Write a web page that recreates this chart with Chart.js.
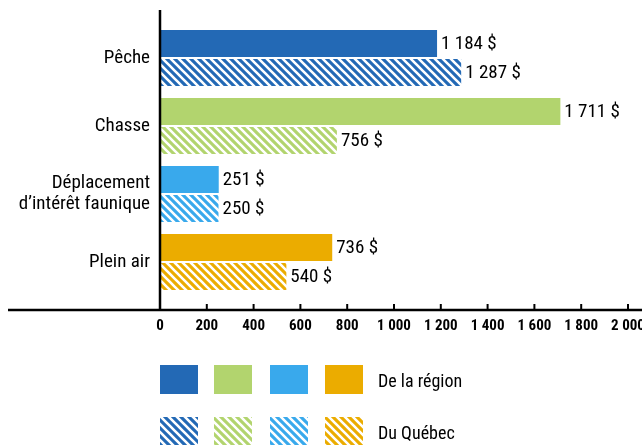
<!DOCTYPE html>
<html>
<head>
<meta charset="utf-8">
<script src="https://cdn.jsdelivr.net/npm/chart.js@4"></script>
<style>
  body { margin: 0; background: #fff; }
  #wrap { width: 642px; height: 445px; }
</style>
</head>
<body>
<div id="wrap"><canvas id="chart" width="642" height="445"></canvas></div>
<script>
// Data
const categories = ["Pêche", "Chasse", ["Déplacement", "d’intérêt faunique"], "Plein air"];
const regionValues = [1184, 1711, 251, 736];
const quebecValues = [1287, 756, 250, 540];
const seriesLabels = ["De la région", "Du Québec"];
const xTicks = [0, 200, 400, 600, 800, 1000, 1200, 1400, 1600, 1800, 2000];
const barColors = ["#2369b5", "#b2d46e", "#39a9ec", "#ebac00"];

const FAMILY = "'Roboto Condensed', 'DejaVu Sans Condensed', sans-serif";

// diagonal white stripes on a colour, going down to the right
function hatch(color, size, stripe) {
  const c = document.createElement("canvas");
  c.width = size; c.height = size;
  const g = c.getContext("2d");
  g.fillStyle = color;
  g.fillRect(0, 0, size, size);
  g.strokeStyle = "#fff";
  g.lineWidth = stripe;
  g.beginPath();
  g.moveTo(0, 0); g.lineTo(size, size);
  g.moveTo(-3, size - 3); g.lineTo(3, size + 3);
  g.moveTo(size - 3, -3); g.lineTo(size + 3, 3);
  g.stroke();
  return g.createPattern(c, "repeat");
}

const ctx = document.getElementById("chart").getContext("2d");
const barHatch = barColors.map(c => hatch(c, 8, 2.6));

function fmt(v, sep) {
  return String(v).replace(/\B(?=(\d{3})+(?!\d))/g, sep);
}

// Axis lines drawn past the plot area like the original
const axisLines = {
  id: "axisLines",
  afterDraw(chart) {
    const { ctx, chartArea, scales } = chart;
    const axisY = chartArea.bottom + 14;
    ctx.save();
    ctx.strokeStyle = "#000";
    ctx.lineWidth = 2.5;
    ctx.beginPath();
    ctx.moveTo(chartArea.left, chartArea.top - 14);
    ctx.lineTo(chartArea.left, axisY);
    ctx.moveTo(8, axisY);
    ctx.lineTo(chart.width, axisY);
    ctx.stroke();
    ctx.lineWidth = 2;
    ctx.beginPath();
    xTicks.slice(1).forEach(v => {
      const x = scales.x.getPixelForValue(v);
      ctx.moveTo(x, axisY - 6);
      ctx.lineTo(x, axisY);
    });
    ctx.stroke();
    ctx.restore();
  }
};

// Value labels at the end of bars
const valueLabels = {
  id: "valueLabels",
  afterDatasetsDraw(chart) {
    const { ctx } = chart;
    ctx.save();
    ctx.font = "19px " + FAMILY;
    ctx.fillStyle = "#000";
    ctx.textBaseline = "middle";
    chart.data.datasets.forEach((ds, i) => {
      chart.getDatasetMeta(i).data.forEach((bar, j) => {
        ctx.fillText(fmt(ds.data[j], "\u00A0") + "\u00A0$", bar.x + 4, bar.y + 1);
      });
    });
    ctx.restore();
  }
};

// Legend: a row of swatches per series, name on the right
const swatchLegend = {
  id: "swatchLegend",
  afterDraw(chart) {
    const { ctx } = chart;
    const xs = [160, 214, 270, 325];
    const rows = [365, 417];
    ctx.save();
    chart.data.datasets.forEach((ds, i) => {
      xs.forEach((x, j) => {
        ctx.fillStyle = ds.backgroundColor[j];
        ctx.fillRect(x, rows[i], 38, 29);
      });
      ctx.fillStyle = "#000";
      ctx.font = "18px " + FAMILY;
      ctx.textBaseline = "middle";
      ctx.fillText(ds.label, 378, rows[i] + 17);
    });
    ctx.restore();
  }
};

new Chart(ctx, {
  type: "bar",
  data: {
    labels: categories,
    datasets: [
      { label: seriesLabels[0], data: regionValues, backgroundColor: barColors },
      { label: seriesLabels[1], data: quebecValues, backgroundColor: barHatch }
    ]
  },
  options: {
    indexAxis: "y",
    responsive: false,
    animation: false,
    categoryPercentage: 0.853,
    barPercentage: 0.93,
    layout: { padding: { top: 24, right: 14, left: 0, bottom: 0 } },
    plugins: { legend: { display: false }, tooltip: { enabled: false } },
    scales: {
      x: {
        min: 0, max: 2000,
        afterBuildTicks: scale => { scale.ticks = xTicks.map(v => ({ value: v })); },
        afterFit: scale => { scale.height = 149; scale.paddingLeft = 0; scale.paddingRight = 0; },
        grid: { display: false },
        border: { display: false },
        ticks: {
          padding: 13,
          maxRotation: 0,
          autoSkip: false,
          color: "#000",
          font: { family: FAMILY, size: 15, weight: "bold" },
          callback: v => fmt(v, " ")
        }
      },
      y: {
        afterFit: scale => { scale.width = 160; },
        grid: { display: false },
        border: { display: false },
        ticks: {
          padding: 2,
          color: "#000",
          font: { family: FAMILY, size: 19, lineHeight: 1.1 }
        }
      }
    }
  },
  plugins: [axisLines, valueLabels, swatchLegend]
});
</script>
</body>
</html>
